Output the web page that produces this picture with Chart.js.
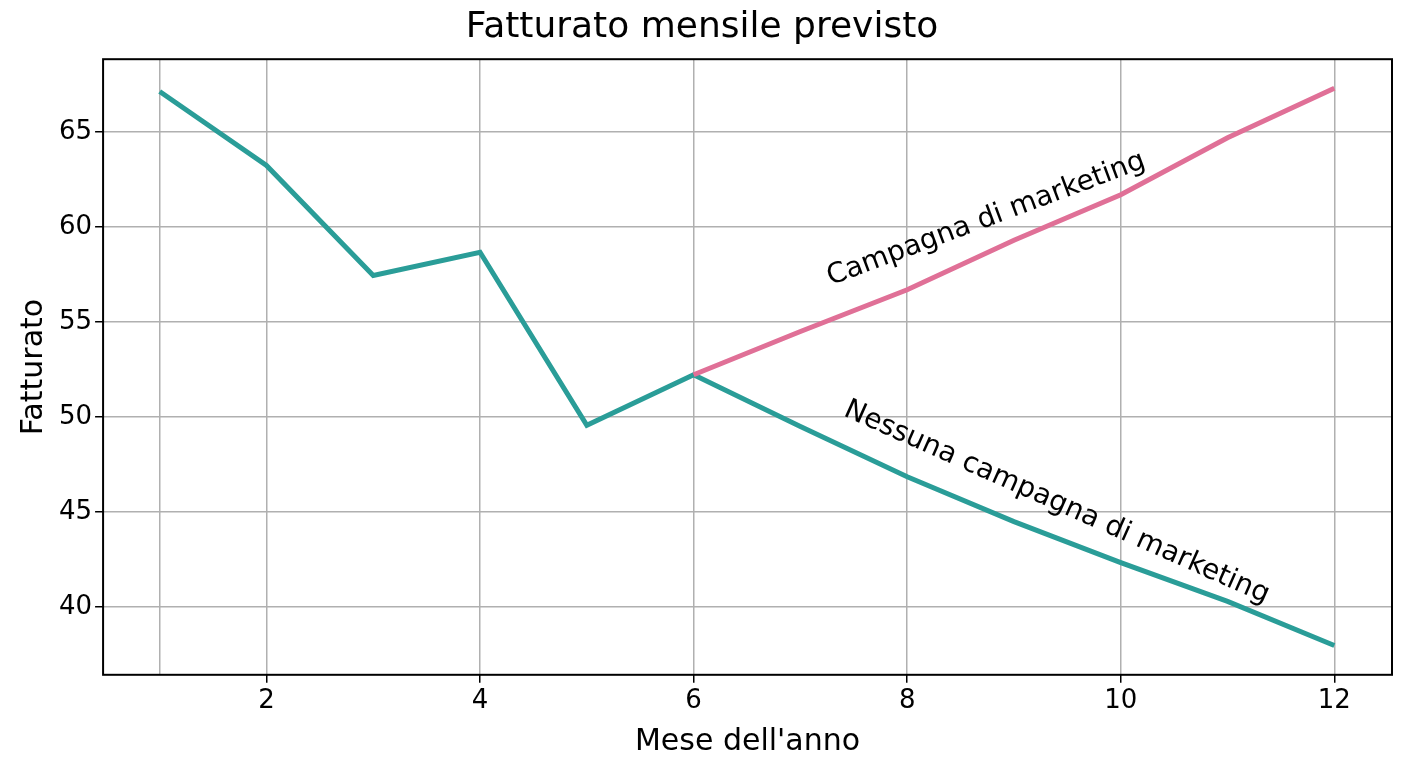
<!DOCTYPE html>
<html><head><meta charset="utf-8">
<script src="https://cdn.jsdelivr.net/npm/chart.js@4/dist/chart.umd.min.js"></script>
<style>html,body{margin:0;padding:0;background:#fff}#w{width:1408px;height:768px}</style>
</head><body><div id="w"><canvas id="c"></canvas></div>
<script>
const months=[1,2,3,4,5,6,7,8,9,10,11,12];
const noCampaign=[67.13,63.24,57.45,58.67,49.57,52.23,49.5,46.86,44.5,42.34,40.3,37.98];
const campaignMonths=[6,7,8,9,10,11,12];
const campaign=[52.23,54.5,56.7,59.3,61.7,64.7,67.3];
const xTicks=[1,2,4,6,8,10,12];
const labels=[{text:'Campagna di marketing',x:8.74,y:60.4,angle:-20.5},{text:'Nessuna campagna di marketing',x:9.4,y:45.5,angle:24}];
const F='"DejaVu Sans"';
const textPlugin={id:'t',afterDatasetsDraw(ch){const c=ch.ctx,xs=ch.scales.x,ys=ch.scales.y;c.save();c.font='28px '+F;c.fillStyle='#000';c.textAlign='center';c.textBaseline='middle';
for(const l of labels){c.save();c.translate(xs.getPixelForValue(l.x),ys.getPixelForValue(l.y));c.rotate(l.angle*Math.PI/180);c.fillText(l.text,0,0);c.restore();}
c.restore();}};
const frame={id:'f',afterDraw(ch){const a=ch.chartArea,c=ch.ctx;c.save();c.strokeStyle='#000';c.lineWidth=2;c.strokeRect(a.left,a.top,a.right-a.left,a.bottom-a.top);c.restore();}};
new Chart(document.getElementById('c'),{type:'line',
data:{datasets:[
{data:campaignMonths.map((m,i)=>({x:m,y:campaign[i]})),borderColor:'#e07097',borderWidth:5,pointRadius:0,tension:0},
{data:months.map((m,i)=>({x:m,y:noCampaign[i]})),borderColor:'#2a9d98',borderWidth:5,pointRadius:0,tension:0}]},
options:{responsive:true,maintainAspectRatio:false,animation:false,devicePixelRatio:1,
layout:{padding:{left:12,right:16,top:0,bottom:4}},
plugins:{legend:{display:false},tooltip:{enabled:false},
title:{display:true,text:'Fatturato mensile previsto',font:{family:F,size:36,weight:'normal'},color:'#000',padding:{top:6,bottom:10}}},
scales:{
x:{type:'linear',min:0.47,max:12.54,afterBuildTicks:s=>{s.ticks=xTicks.map(v=>({value:v}));},
ticks:{callback:v=>v===1?'':v,font:{family:F,size:26},color:'#000',autoSkip:false,maxRotation:0},
grid:{color:'#b0b0b0',lineWidth:1.5,tickColor:c=>c.tick&&c.tick.value===1?'rgba(0,0,0,0)':'#000',tickLength:8},border:{display:false},
title:{display:true,text:"Mese dell'anno",font:{family:F,size:30},color:'#000',padding:{top:4}}},
y:{min:36.44,max:68.83,afterBuildTicks:s=>{s.ticks=[40,45,50,55,60,65].map(v=>({value:v}));},
ticks:{font:{family:F,size:26},color:'#000'},
grid:{color:'#b0b0b0',lineWidth:1.5,tickColor:'#000',tickLength:8},border:{display:false},
title:{display:true,text:'Fatturato',font:{family:F,size:30},color:'#000'}}}},
plugins:[textPlugin,frame]});
</script></body></html>
